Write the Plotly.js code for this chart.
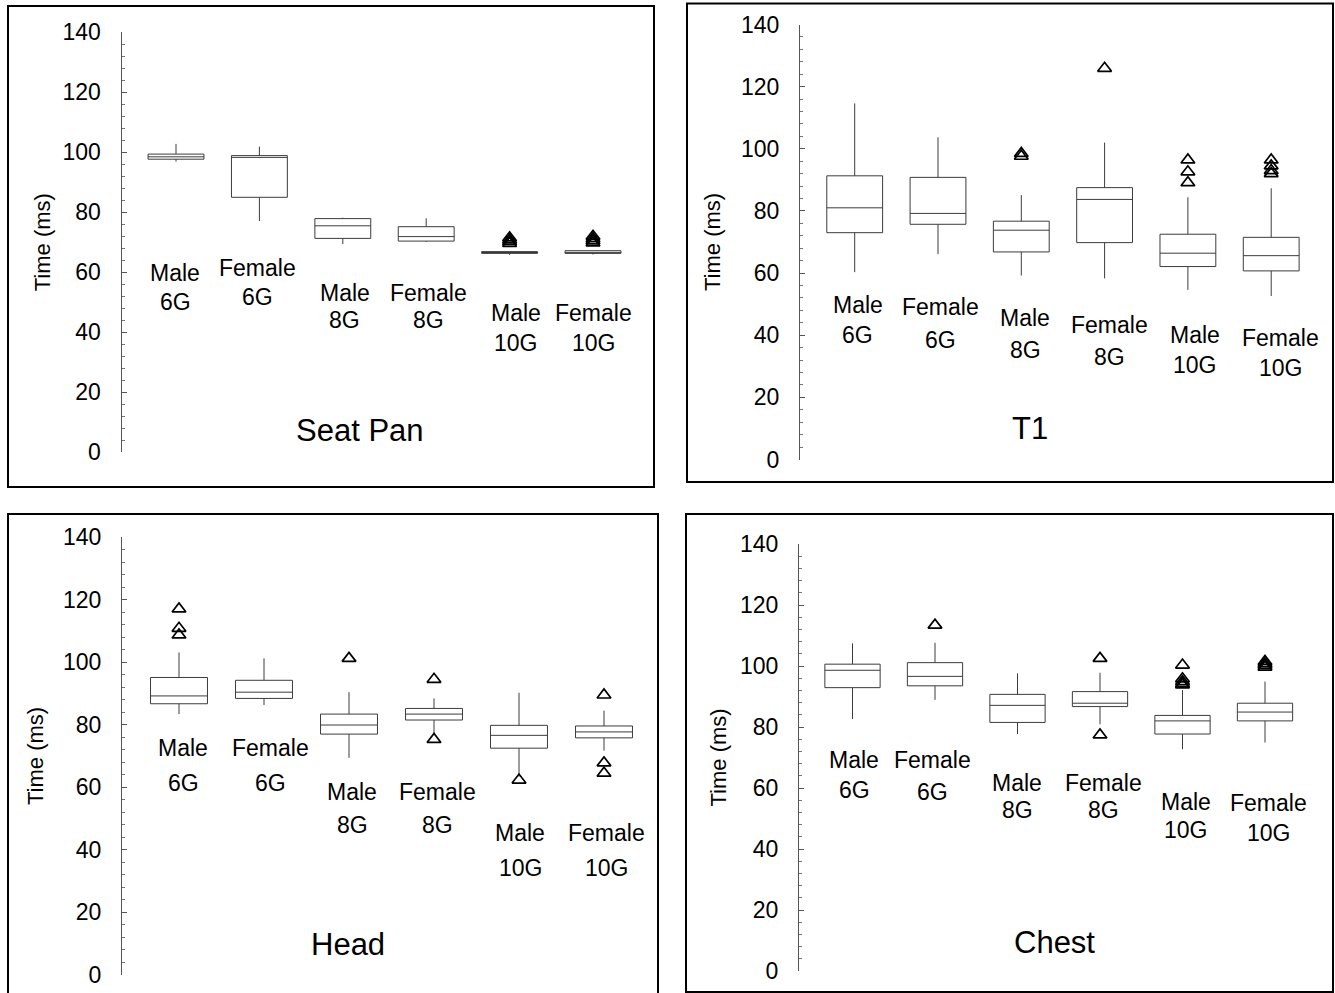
<!DOCTYPE html>
<html>
<head>
<meta charset="utf-8">
<script src="https://cdn.plot.ly/plotly-3.0.1.min.js"></script>
<style>
  html, body { margin: 0; padding: 0; background: #fff; }
  #chart { width: 1335px; height: 993px; }
</style>
</head>
<body>
<div id="chart"></div>
<script>
// Category labels (two lines under each box)
const groups = ['Male', 'Female', 'Male', 'Female', 'Male', 'Female'];
const loads = ['6G', '6G', '8G', '8G', '10G', '10G'];

// Seat Pan timing (ms)
const seatQ1 = [97.7, 85.0, 71.3, 70.4, 66.3, 66.3];
const seatMedian = [98.5, 98.3, 75.5, 71.9, 66.6, 66.6];
const seatQ3 = [99.4, 98.9, 77.9, 75.2, 66.9, 67.2];
const seatLow = [96.9, 77.1, 69.4, 70.1, 65.8, 65.9];
const seatHigh = [102.8, 101.9, 78.2, 78.0, 66.9, 67.2];
const seatOutX = [4, 4, 4, 4, 5, 5, 5, 5];
const seatOutY = [71.5, 70.8, 70.2, 69.6, 72.0, 71.2, 70.5, 69.8];

// T1 timing (ms)
const t1Q1 = [73.0, 75.7, 66.8, 69.8, 62.1, 60.7];
const t1Median = [81.0, 79.2, 73.8, 83.7, 66.4, 65.6];
const t1Q3 = [91.3, 90.8, 76.7, 87.5, 72.5, 71.5];
const t1Low = [60.3, 66.1, 59.2, 58.3, 54.6, 52.6];
const t1High = [114.6, 103.7, 85.1, 102.0, 84.4, 87.3];
const t1OutX = [2, 2, 3, 4, 4, 4, 5, 5, 5, 5];
const t1OutY = [98.5, 97.6, 125.9, 96.4, 92.6, 89.1, 96.4, 94.5, 93.0, 92.0];

// Head timing (ms)
const headQ1 = [86.7, 88.4, 77.0, 81.5, 72.5, 75.8];
const headMedian = [89.2, 90.4, 79.9, 83.4, 76.6, 77.7];
const headQ3 = [95.1, 94.2, 83.4, 85.2, 79.8, 79.6];
const headLow = [83.4, 86.3, 69.4, 77.2, 63.4, 71.7];
const headHigh = [103.1, 101.2, 90.4, 88.4, 90.2, 84.5];
const headOutX = [0, 0, 0, 2, 3, 3, 4, 5, 5, 5];
const headOutY = [117.0, 110.8, 108.7, 101.2, 94.5, 75.3, 62.3, 89.5, 67.8, 64.5];

// Chest timing (ms)
const chestQ1 = [92.9, 93.5, 81.5, 86.7, 77.7, 82.0];
const chestMedian = [98.6, 96.6, 87.1, 87.8, 82.0, 84.9];
const chestQ3 = [100.6, 101.1, 90.7, 91.6, 83.8, 87.8];
const chestLow = [82.6, 88.9, 77.7, 80.9, 72.7, 74.9];
const chestHigh = [107.4, 107.6, 97.6, 97.8, 92.1, 94.9];
const chestOutX = [1, 3, 3, 4, 4, 4, 4, 4, 5, 5, 5, 5];
const chestOutY = [113.4, 102.5, 77.4, 100.3, 95.8, 94.9, 94.2, 93.8, 101.5, 100.8, 100.2, 99.6];

const W = 1335, H = 993;
const px = v => v / W;
const py = v => 1 - v / H;

// Panel geometry (pixels) and label placement (axis units)
const panels = [
  { title: 'Seat Pan', stats: [seatQ1, seatMedian, seatQ3, seatLow, seatHigh], outX: seatOutX, outY: seatOutY,
    frame: [8, 6, 654, 487], axisX: 121.5, right: 645, top: 32.3, bottom: 452.3, c0: 176, step: 83.4,
    titlePos: [360, 430], yTitleX: 42,
    labTop: [59.7, 61.3, 53.0, 53.0, 46.3, 46.3], labBot: [50.2, 51.9, 44.1, 44.1, 36.5, 36.5],
    labDx: [-1, -2, 2, 2, 6, 0] },
  { title: 'T1', stats: [t1Q1, t1Median, t1Q3, t1Low, t1High], outX: t1OutX, outY: t1OutY,
    frame: [687, 3.5, 1333, 482], axisX: 800, right: 1325, top: 24.5, bottom: 459.5, c0: 854.7, step: 83.3,
    titlePos: [1030, 428], yTitleX: 712,
    labTop: [49.7, 49.2, 45.4, 43.3, 40.1, 39.0], labBot: [40.1, 38.5, 35.2, 33.1, 30.4, 29.4],
    labDx: [3, 2, 4, 5, 7, 9] },
  { title: 'Head', stats: [headQ1, headMedian, headQ3, headLow, headHigh], outX: headOutX, outY: headOutY,
    frame: [8, 514, 658, 1000], axisX: 122, right: 650, top: 537, bottom: 975, c0: 179, step: 85,
    titlePos: [348, 944], yTitleX: 35,
    labTop: [72.5, 72.5, 58.6, 58.6, 45.3, 45.3], labBot: [61.3, 61.3, 47.9, 47.9, 34.1, 34.1],
    labDx: [4, 6, 3, 3, 1, 2] },
  { title: 'Chest', stats: [chestQ1, chestMedian, chestQ3, chestLow, chestHigh], outX: chestOutX, outY: chestOutY,
    frame: [686, 514, 1333, 992], axisX: 799, right: 1325, top: 544, bottom: 971, c0: 852.5, step: 82.5,
    titlePos: [1054, 942], yTitleX: 718,
    labTop: [69.2, 69.2, 61.5, 61.5, 55.5, 55.0], labBot: [59.3, 58.8, 52.8, 52.8, 46.2, 45.3],
    labDx: [2, -2, 0, 3, 3, 3] }
];

const FONT = 'Liberation Sans, Arial, sans-serif';
const data = [];
const layout = {
  width: W, height: H,
  margin: { l: 0, r: 0, t: 0, b: 0 },
  paper_bgcolor: '#fff', plot_bgcolor: 'rgba(0,0,0,0)',
  showlegend: false,
  font: { family: FONT, color: '#000' },
  shapes: [], annotations: []
};

panels.forEach((p, i) => {
  const n = i === 0 ? '' : String(i + 1);
  const xa = 'x' + n, ya = 'y' + n;
  const cats = groups.map((_, k) => k);

  data.push({
    type: 'box', xaxis: xa, yaxis: ya,
    x: cats,
    q1: p.stats[0], median: p.stats[1], q3: p.stats[2],
    lowerfence: p.stats[3], upperfence: p.stats[4],
    width: 0.67, whiskerwidth: 0, boxpoints: false,
    fillcolor: 'rgba(0,0,0,0)',
    line: { color: '#3c3c3c', width: 1 },
    hoverinfo: 'skip'
  });
  data.push({
    type: 'scatter', mode: 'markers', xaxis: xa, yaxis: ya,
    x: p.outX, y: p.outY,
    marker: { symbol: 'triangle-up-open', size: 12, color: '#000', line: { width: 1.7, color: '#000' } },
    hoverinfo: 'skip'
  });

  const x0 = (p.axisX - p.c0) / p.step;
  const x1 = (p.right - p.c0) / p.step;
  layout['xaxis' + n] = {
    domain: [px(p.axisX), px(p.right)], range: [x0, x1], anchor: ya,
    visible: false, fixedrange: true
  };
  layout['yaxis' + n] = {
    domain: [py(p.bottom), py(p.top)], range: [0, 140], anchor: xa,
    showline: true, linecolor: '#555', linewidth: 1,
    showgrid: false, zeroline: false,
    ticks: 'inside', ticklen: 5, tickwidth: 1, tickcolor: '#555', dtick: 20, tick0: 0,
    minor: { ticks: 'inside', dtick: 4, ticklen: 3, tickcolor: '#777', showgrid: false },
    tickfont: { size: 23, family: FONT, color: '#000' },
    ticklabelstandoff: 15, fixedrange: true
  };

  // frame around the panel
  layout.shapes.push({
    type: 'rect', xref: 'paper', yref: 'paper',
    x0: px(p.frame[0]), x1: px(p.frame[2]), y0: py(p.frame[3]), y1: py(p.frame[1]),
    line: { color: '#000', width: 2 }
  });

  // y axis title
  layout.annotations.push({
    xref: 'paper', yref: 'paper', x: px(p.yTitleX), y: py((p.top + p.bottom) / 2),
    text: 'Time (ms)', textangle: -90, showarrow: false,
    xanchor: 'center', yanchor: 'middle',
    font: { size: 22, family: FONT, color: '#000' }
  });

  // panel title
  layout.annotations.push({
    xref: 'paper', yref: 'paper', x: px(p.titlePos[0]), y: py(p.titlePos[1]),
    text: p.title, showarrow: false, xanchor: 'center', yanchor: 'middle',
    font: { size: 31, family: FONT, color: '#000' }
  });

  // category labels under each box
  cats.forEach(k => {
    [[groups[k], p.labTop[k]], [loads[k], p.labBot[k]]].forEach(([txt, yv]) => {
      layout.annotations.push({
        xref: xa, yref: ya, x: k, y: yv, xshift: p.labDx[k],
        text: txt, showarrow: false, xanchor: 'center', yanchor: 'middle',
        font: { size: 23, family: FONT, color: '#000' }
      });
    });
  });
});

Plotly.newPlot('chart', data, layout, { staticPlot: true });
</script>
</body>
</html>
